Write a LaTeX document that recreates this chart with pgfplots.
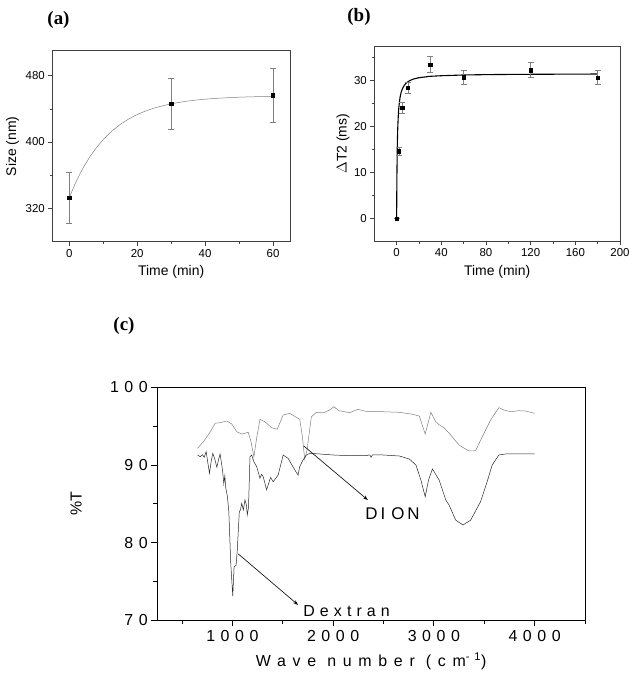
\documentclass[border=0pt]{standalone}
\usepackage{fontspec}
\setmainfont{Liberation Sans}
\newfontfamily\titlefont{Liberation Serif}
\newfontfamily\spaced[LetterSpace=35]{Liberation Sans}
\newfontfamily\wide[LetterSpace=32]{Liberation Sans}
\newfontfamily\wlabel[LetterSpace=42]{Liberation Sans}
\usepackage{pgfplots}
\pgfplotsset{compat=1.18}
\usetikzlibrary{arrows.meta}
\pgfplotsset{
  orig/.style={
    scale only axis, anchor=south west,
    tick pos=left, tick align=outside,
    major tick length=4bp, minor tick length=2.5bp,
    axis line style={black!75, line width=0.6bp},
    tick style={black!75, line width=0.5bp},
    /pgf/number format/assume math mode=true,
    /pgf/number format/set thousands separator={},
    ticklabel style={font=\fontsize{11.5}{13}\selectfont},
    label style={font=\fontsize{14}{16}\selectfont},
  }
}
\begin{document}
\begin{tikzpicture}
\path[use as bounding box] (0,0) rectangle (636bp,686bp);
\node[font=\titlefont\bfseries\fontsize{19}{22}\selectfont] at (58.5bp,666bp) {(a)};
\node[font=\titlefont\bfseries\fontsize{19}{22}\selectfont] at (359bp,669bp) {(b)};
\node[font=\titlefont\bfseries\fontsize{19}{22}\selectfont] at (124bp,360bp) {(c)};

% ---------- (a)
\begin{axis}[orig,
  at={(52.3bp,444.3bp)}, width=237.7bp, height=191bp,
  xmin=-5, xmax=65, ymin=280, ymax=510,
  xtick={0,20,40,60}, minor xtick={10,30,50},
  ytick={320,400,480}, minor ytick={360,440},
  xlabel={Time (min)}, ylabel={Size (nm)},
  xlabel style={at={(axis description cs:0.5,-0.159)}, anchor=center},
  ylabel style={at={(axis description cs:-0.167,0.5)}, anchor=center},
]
\addplot[gray, line width=0.5bp, smooth] coordinates {
(0,333.0) (2,352.1) (4,368.2) (6,381.8) (8,393.2) (10,402.9) (12,411.2)
(15,421.1) (18,428.9) (21,434.9) (25,440.9) (30,446.0) (35,449.4)
(40,451.6) (45,453.0) (50,454.0) (55,454.6) (60,455.0)};
\addplot[only marks, mark=square*, mark size=1.6bp, black,
  error bars/.cd, y dir=both, y explicit,
  error bar style={gray, line width=0.4bp},
  error mark options={gray, rotate=90, mark size=3bp, line width=0.4bp}]
coordinates {(0,333.2) +- (0,30.5) (30,446.5) +- (0,30.5) (60,456.4) +- (0,32)};
\end{axis}

% ---------- (b)
\begin{axis}[orig,
  at={(374.3bp,444.7bp)}, width=245.7bp, height=195.3bp,
  xmin=-20, xmax=200, ymin=-5, ymax=37.5,
  xtick={0,40,...,200}, minor xtick={20,60,100,140,180},
  ytick={0,10,20,30}, minor ytick={5,15,25,35},
  xlabel={Time (min)}, ylabel={$\Delta$T2 (ms)},
  xlabel style={at={(axis description cs:0.5,-0.157)}, anchor=center},
  ylabel style={at={(axis description cs:-0.127,0.5)}, anchor=center},
]
\addplot[black, line width=1.1bp] coordinates {
(0,0) (0.1,4.5) (0.25,9.26) (0.5,14.3) (0.75,17.5) (1,19.7) (1.5,22.5)
(2,24.2) (3,26.25) (4,27.4) (5,28.1) (6.5,28.8) (8,29.3) (10,29.7)
(12,30.0) (15,30.3) (20,30.6) (30,30.9) (40,31.03) (60,31.19) (80,31.27)
(100,31.31) (120,31.34) (150,31.37) (180,31.4)};
\addplot[only marks, mark=square*, mark size=1.6bp, black,
  error bars/.cd, y dir=both, y explicit,
  error bar style={gray, line width=0.4bp},
  error mark options={gray, rotate=90, mark size=3bp, line width=0.4bp}]
coordinates {(0,0) +- (0,0) (2,14.6) +- (0,0.8) (5,24.1) +- (0,1.2)
(10,28.4) +- (0,1.2) (30,33.5) +- (0,1.7) (60,30.7) +- (0,1.5)
(120,32.25) +- (0,1.65) (180,30.65) +- (0,1.55)};
\end{axis}

% ---------- (c)
\begin{axis}[orig,
  at={(157.3bp,65.6bp)}, width=427.7bp, height=233.1bp,
  xmin=255, xmax=4500, ymin=70, ymax=100,
  xtick={1000,2000,3000,4000}, minor xtick={500,1500,2500,3500,4500},
  ytick={70,80,90,100}, minor ytick={75,85,95},
  major tick length=6bp, minor tick length=4bp,
  axis line style={black, line width=0.9bp},
  tick style={black, line width=0.8bp},
  ticklabel style={font=\spaced\fontsize{16}{18}\selectfont},
  label style={font=\wlabel\fontsize{16}{18}\selectfont},
  xlabel={Wave number (cm\textsuperscript{-1})}, ylabel={\fontsize{16}{18}\selectfont\rmfamily\%T},
  xlabel style={at={(axis description cs:0.5,-0.174)}, anchor=center},
  ylabel style={at={(axis description cs:-0.19,0.5)}, anchor=center},
]
% DION (upper)
\addplot[black!50, line width=0.5bp] coordinates {
(654,92.15) (713,93.0) (773,94.1) (829,95.37) (878,95.45) (945,95.66)
(994,95.28) (1043,94.29) (1093,93.99) (1158,94.2) (1185,93.0) (1214,91.07)
(1241,93.44) (1274,95.88) (1323,95.57) (1389,94.8) (1445,94.6) (1504,96.43)
(1570,96.65) (1652,96.0) (1669,95.88) (1695,93.64) (1718,90.73) (1741,91.93)
(1784,96.2) (1834,96.78) (1916,96.78) (1965,97.08) (2008,97.5) (2057,96.99)
(2163,96.73) (2245,97.17) (2328,96.9) (2492,96.86) (2657,96.78) (2788,96.53)
(2855,96.3) (2914,93.99) (2970,96.78) (3019,95.57) (3050,95.2) (3100,94.8)
(3151,94.1) (3250,92.57) (3348,91.8) (3414,91.84) (3480,93.64) (3563,95.79)
(3645,97.38) (3694,97.08) (3760,96.86) (3843,96.99) (3909,96.95) (4000,96.65)};
% Dextran (lower)
\addplot[black!85, line width=0.5bp] coordinates {
(654,91.29) (681,91.07) (704,91.33) (720,91.0) (740,91.71) (760,90.0)
(773,88.93) (790,90.5) (806,91.5) (825,90.8) (846,89.7) (865,90.8)
(878,91.42) (895,90.0) (905,89.0) (915,87.6) (925,88.6) (935,87.0)
(950,86.0) (965,84.0) (984,77.35) (1004,73.14) (1017,76.9) (1037,77.1)
(1049,79.06) (1069,84.0) (1080,84.2) (1093,85.07) (1109,84.2) (1125,85.5)
(1140,84.8) (1148,83.56) (1160,84.5) (1175,91.07) (1192,91.29) (1214,90.4)
(1241,89.8) (1274,88.3) (1290,88.8) (1306,88.5) (1340,86.8) (1379,88.4)
(1405,87.85) (1454,88.7) (1504,91.29) (1553,90.86) (1620,89.36) (1652,88.7)
(1669,89.8) (1701,90.64) (1735,91.29) (1768,91.5) (1866,91.42) (1998,91.29)
(2163,91.2) (2328,91.2) (2365,91.3) (2377,91.0) (2390,91.3) (2492,91.29)
(2657,91.16) (2756,90.77) (2822,90.0) (2871,88.07) (2914,85.92) (2947,88.07)
(2986,89.49) (3052,88.07) (3118,85.5) (3151,84.85) (3217,82.9) (3289,82.28)
(3365,82.9) (3464,85.3) (3513,87.2) (3579,90.0) (3645,91.29) (3711,91.42)
(4000,91.42)};
\draw[black, line width=0.6bp, -{Stealth[length=5bp,width=3.5bp]}] (axis cs:1709,92.45) -- (axis cs:2344,85.5);
\draw[black, line width=0.6bp, -{Stealth[length=5bp,width=3.5bp]}] (axis cs:1059,78.55) -- (axis cs:1652,72.0);
\node[font=\spaced\fontsize{17}{19}\selectfont] at (axis cs:2590,83.7) {D\kern3bp IO\kern3bp N};
\node[anchor=west, font=\wide\fontsize{16}{18}\selectfont] at (axis cs:1670,71.2) {Dextran};
\end{axis}
\end{tikzpicture}
\end{document}
